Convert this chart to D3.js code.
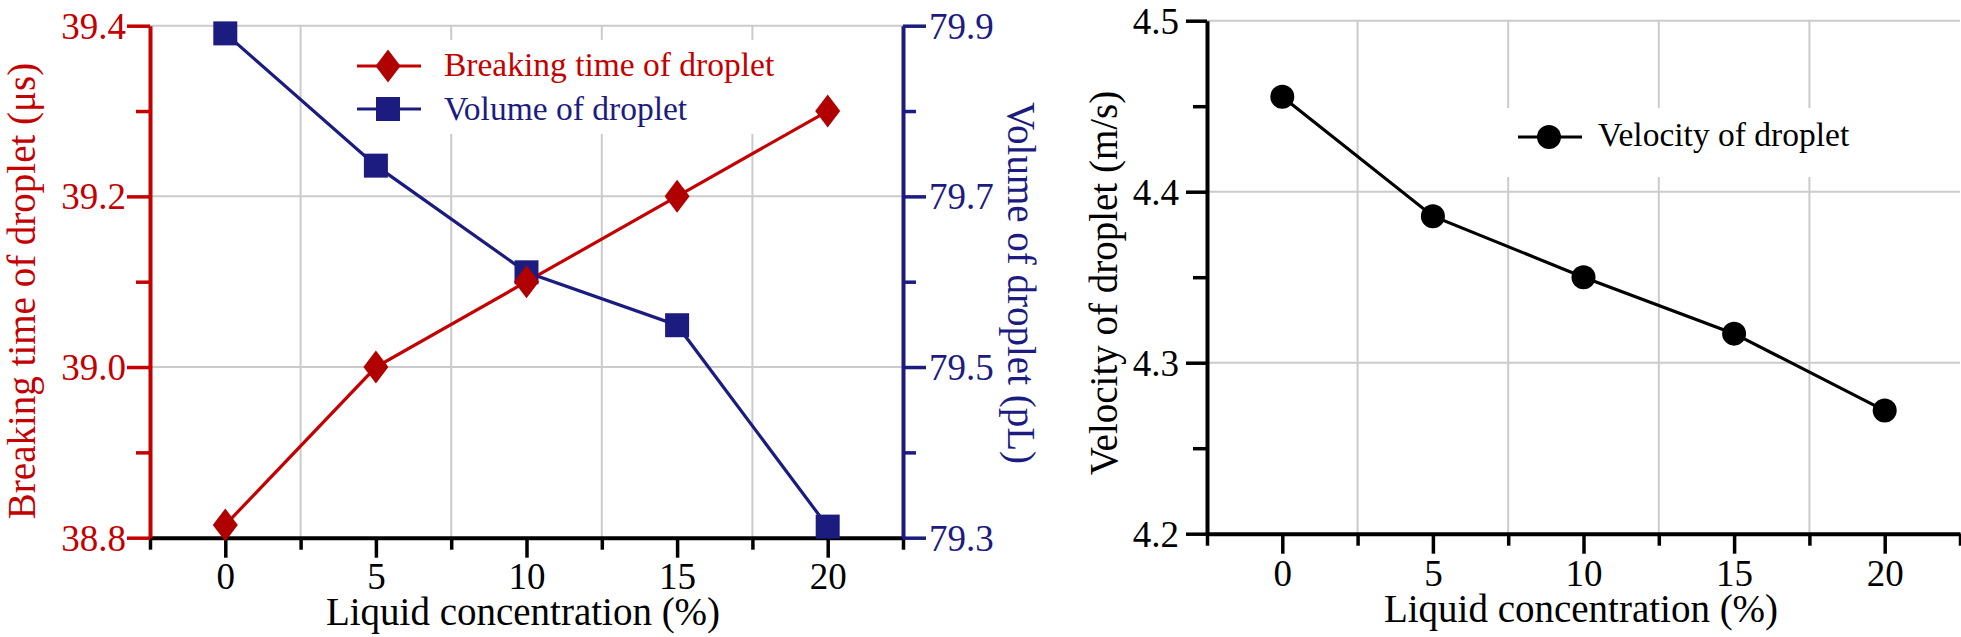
<!DOCTYPE html>
<html>
<head>
<meta charset="utf-8">
<script src="https://cdn.jsdelivr.net/npm/d3@7"></script>
<style>
  body { margin: 0; background: #fff; }
  svg { display: block; }
</style>
</head>
<body>
<svg></svg>
<script>
// data
let concentration = [0, 5, 10, 15, 20];
let breakingTime = [38.815, 39.0, 39.1, 39.2, 39.3];   // µs
let dropVolume = [79.891, 79.736, 79.611, 79.549, 79.313]; // pL
let velocity = [4.4555, 4.3857, 4.35, 4.317, 4.272];  // m/s

let xMajor = [0, 5, 10, 15, 20];
let xMinor = [-2.5, 2.5, 7.5, 12.5, 17.5, 22.5];
let timeMajor = [38.8, 39.0, 39.2, 39.4];
let timeMinor = [38.9, 39.1, 39.3];
let volMajor = [79.3, 79.5, 79.7, 79.9];
let volMinor = [79.4, 79.6, 79.8];
let velMajor = [4.2, 4.3, 4.4, 4.5];
let velMinor = [4.25, 4.35, 4.45];

let width = 1961;
let height = 637;
let font = "'Liberation Serif', 'Times New Roman', serif";
let red = "#c40000";
let redFill = "#b00000";
let blue = "#1c1c80";
let gridColor = "#cbcbcb";

let svg = d3.select("svg").attr("width", width).attr("height", height);
svg.append("rect").attr("width", width).attr("height", height).attr("fill", "#fff");

// scales
let xL = d3.scaleLinear().domain([-2.5, 22.5]).range([150, 903]);
let yTime = d3.scaleLinear().domain([38.8, 39.4]).range([537.7, 25.7]);
let yVol = d3.scaleLinear().domain([79.3, 79.9]).range([537.7, 25.7]);
let xR = d3.scaleLinear().domain([-2.5, 22.5]).range([1207, 1960]);
let yVel = d3.scaleLinear().domain([4.2, 4.5]).range([533.7, 20.7]);

let text = (g, x, y, str, size, color, anchor, rot) => {
    return g.append("text")
        .attr("transform", "translate(" + x + "," + y + ")" + (rot ? " rotate(" + rot + ")" : ""))
        .attr("font-family", font)
        .attr("font-size", size)
        .attr("fill", color)
        .attr("text-anchor", anchor)
        .text(str);
};

let grid = (xs, ys, xTicks, yTicks) => {
    let g = svg.append("g").attr("stroke", gridColor).attr("stroke-width", 2);
    g.selectAll(".gx").data(xTicks).enter().append("line")
        .attr("x1", d => xs(d)).attr("x2", d => xs(d))
        .attr("y1", ys.range()[0]).attr("y2", ys.range()[1]);
    g.selectAll(".gy").data(yTicks).enter().append("line")
        .attr("x1", xs.range()[0]).attr("x2", xs.range()[1])
        .attr("y1", d => ys(d)).attr("y2", d => ys(d));
};

// axis helper: one call for minor ticks, one for major ticks with labels
let axis = (maker, scale, pos, major, minor, bigTick, smallTick, color, fmt, lx, ly, anchor) => {
    let gMinor = svg.append("g").attr("transform", pos).call(
        maker(scale).tickValues(minor).tickSize(smallTick).tickSizeOuter(0).tickFormat(""));
    gMinor.select(".domain").remove();
    gMinor.selectAll(".tick line").attr("stroke", color).attr("stroke-width", 3.5);

    let gMajor = svg.append("g").attr("transform", pos).call(
        maker(scale).tickValues(major).tickSize(bigTick).tickSizeOuter(0).tickFormat(fmt));
    gMajor.attr("font-family", font).attr("font-size", 37).attr("text-anchor", anchor);
    gMajor.select(".domain").attr("stroke", color).attr("stroke-width", 4);
    gMajor.selectAll(".tick line").attr("stroke", color).attr("stroke-width", 3.5);
    gMajor.selectAll(".tick text")
        .attr("fill", color)
        .attr("x", lx).attr("y", ly).attr("dy", null);
    return gMajor;
};

let diamond = (w, h) => "M0," + (-h / 2) + "L" + (w / 2) + ",0L0," + (h / 2) + "L" + (-w / 2) + ",0Z";
let square = (w, h) => "M" + (-w / 2) + "," + (-h / 2) + "h" + w + "v" + h + "h" + (-w) + "Z";

// ---------- left chart ----------
grid(xL, yTime, [2.5, 7.5, 12.5, 17.5], [39.0, 39.2, 39.4]);

axis(d3.axisBottom, xL, "translate(0," + yTime(38.8) + ")", xMajor, xMinor, 20, 12, "#000", d3.format("d"), 0, 51, "middle");
axis(d3.axisLeft, yTime, "translate(" + xL(-2.5) + ",0)", timeMajor, timeMinor, 23, 14, red, d3.format(".1f"), -24, 12.5, "end");
axis(d3.axisRight, yVol, "translate(" + xL(22.5) + ",0)", volMajor, volMinor, 23, 13, blue, d3.format(".1f"), 26, 12.5, "start");

let lineTime = d3.line().x((d, i) => xL(concentration[i])).y(d => yTime(d));
let lineVol = d3.line().x((d, i) => xL(concentration[i])).y(d => yVol(d));

svg.append("path").attr("d", lineVol(dropVolume)).attr("fill", "none").attr("stroke", blue).attr("stroke-width", 3.2);
svg.append("path").attr("d", lineTime(breakingTime)).attr("fill", "none").attr("stroke", red).attr("stroke-width", 3.2);

svg.selectAll(".vol").data(dropVolume).enter().append("path")
    .attr("d", square(24, 24))
    .attr("transform", (d, i) => "translate(" + xL(concentration[i]) + "," + yVol(d) + ")")
    .attr("fill", blue);
svg.selectAll(".time").data(breakingTime).enter().append("path")
    .attr("d", diamond(25, 33))
    .attr("transform", (d, i) => "translate(" + xL(concentration[i]) + "," + yTime(d) + ")")
    .attr("fill", redFill);

text(svg, 35, 291, "Breaking time of droplet (μs)", 39, red, "middle", -90);
text(svg, 1008, 283, "Volume of droplet (pL)", 39, blue, "middle", 90);
text(svg, 523, 625, "Liquid concentration (%)", 39, "#000", "middle");

// legend
let legL = svg.append("g");
legL.append("rect").attr("x", 345).attr("y", 40).attr("width", 440).attr("height", 94).attr("fill", "#fff");
legL.append("line").attr("x1", 357).attr("x2", 421).attr("y1", 66).attr("y2", 66).attr("stroke", red).attr("stroke-width", 3.2);
legL.append("path").attr("d", diamond(25, 33)).attr("transform", "translate(388,66)").attr("fill", redFill);
text(legL, 444, 76, "Breaking time of droplet", 33.5, red, "start");
legL.append("line").attr("x1", 357).attr("x2", 421).attr("y1", 109).attr("y2", 109).attr("stroke", blue).attr("stroke-width", 3.2);
legL.append("path").attr("d", square(24, 24)).attr("transform", "translate(388,109)").attr("fill", blue);
text(legL, 444, 120, "Volume of droplet", 33.5, blue, "start");

// ---------- right chart ----------
grid(xR, yVel, [2.5, 7.5, 12.5, 17.5], [4.3, 4.4, 4.5]);

axis(d3.axisBottom, xR, "translate(0," + yVel(4.2) + ")", xMajor, xMinor, 20, 12, "#000", d3.format("d"), 0, 52, "middle");
axis(d3.axisLeft, yVel, "translate(" + xR(-2.5) + ",0)", velMajor, velMinor, 21, 14, "#000", d3.format(".1f"), -28, 12.5, "end");

let lineVel = d3.line().x((d, i) => xR(concentration[i])).y(d => yVel(d));
svg.append("path").attr("d", lineVel(velocity)).attr("fill", "none").attr("stroke", "#000").attr("stroke-width", 3.2);
svg.selectAll(".vel").data(velocity).enter().append("circle")
    .attr("cx", (d, i) => xR(concentration[i]))
    .attr("cy", d => yVel(d))
    .attr("r", 12)
    .attr("fill", "#000");

text(svg, 1117, 283, "Velocity of droplet (m/s)", 39, "#000", "middle", -90);
text(svg, 1581, 622, "Liquid concentration (%)", 39, "#000", "middle");

let legR = svg.append("g");
legR.append("rect").attr("x", 1500).attr("y", 108).attr("width", 330).attr("height", 69).attr("fill", "#fff");
legR.append("line").attr("x1", 1518).attr("x2", 1582).attr("y1", 137).attr("y2", 137).attr("stroke", "#000").attr("stroke-width", 3.2);
legR.append("circle").attr("cx", 1549).attr("cy", 137).attr("r", 12).attr("fill", "#000");
text(legR, 1598, 146, "Velocity of droplet", 33.5, "#000", "start");
</script>
</body>
</html>
